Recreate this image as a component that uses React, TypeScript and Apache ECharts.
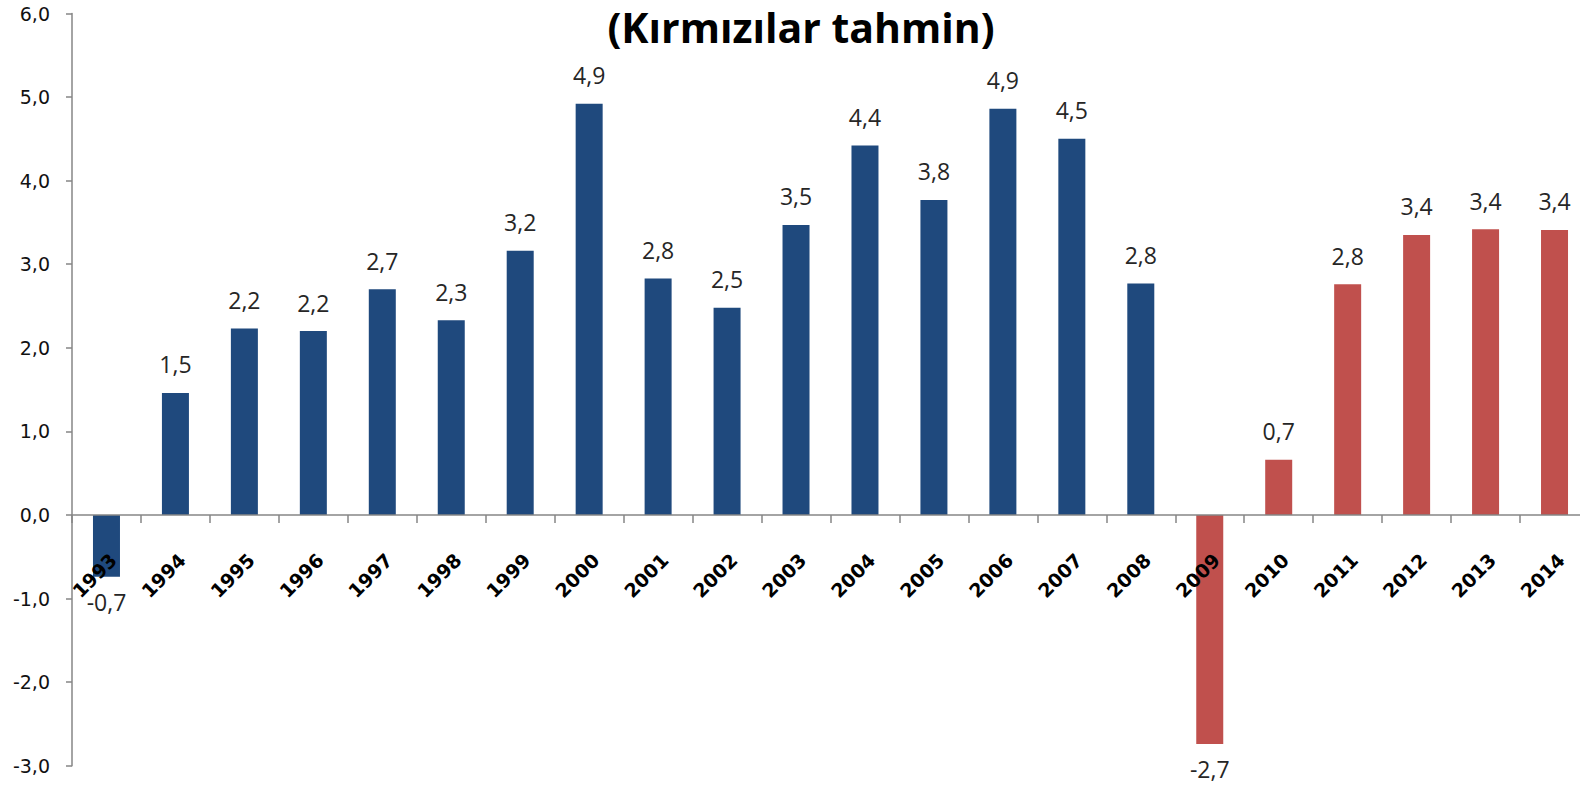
import React, { useEffect, useRef } from "react";
import * as echarts from "echarts";

const years = [
  "1993", "1994", "1995", "1996", "1997", "1998", "1999", "2000", "2001", "2002", "2003",
  "2004", "2005", "2006", "2007", "2008", "2009", "2010", "2011", "2012", "2013", "2014",
];
const growth = [
  -0.74, 1.46, 2.23, 2.2, 2.7, 2.33, 3.16, 4.92, 2.83, 2.48, 3.47,
  4.42, 3.77, 4.86, 4.5, 2.77, -2.74, 0.66, 2.76, 3.35, 3.42, 3.41,
];
const isForecast = [
  false, false, false, false, false, false, false, false, false, false, false,
  false, false, false, false, false, true, true, true, true, true, true,
];
const titleText = "(Kırmızılar tahmin)";
const yMin = -3;
const yMax = 6;
const yStep = 1;

const fmt = (v: number) => v.toFixed(1).replace(".", ",");

const GRID_TOP = 13.5;
const GRID_H = 752.2;

export default function App() {
  const ref = useRef<HTMLDivElement>(null);
  useEffect(() => {
    if (!ref.current) return;
    const chart = echarts.init(ref.current, undefined, { renderer: "svg" });
    const data = growth.map((v, i) => ({
      value: v,
      itemStyle: { color: isForecast[i] ? "#C0504D" : "#1F497D" },
      label: { position: v < 0 ? "bottom" : "top", distance: v < 0 ? 14 : 17 },
    }));
    const zeroOffset = -(GRID_H * (0 - yMin)) / (yMax - yMin);
    chart.setOption({
      animation: false,
      backgroundColor: "#ffffff",
      graphic: [
        {
          type: "text",
          x: 801,
          y: 27,
          style: {
            text: titleText,
            fontFamily: "Open Sans",
            fontWeight: "bold",
            fontSize: 41,
            fill: "#000000",
            textAlign: "center",
            textVerticalAlign: "middle",
          },
        },
      ],
      grid: {
        left: 72,
        top: GRID_TOP,
        width: 1517,
        height: GRID_H,
        containLabel: false,
        outerBoundsMode: "none",
      },
      xAxis: {
        type: "category",
        data: years,
        boundaryGap: true,
        position: "bottom",
        offset: zeroOffset,
        z: 10,
        axisLine: { onZero: false, lineStyle: { color: "#868686", width: 1.5 } },
        axisTick: { show: true, length: 8, lineStyle: { color: "#868686", width: 1.5 } },
        axisLabel: {
          interval: 0,
          rotate: 45,
          align: "right",
          verticalAlign: "top",
          margin: 35,
          fontFamily: "DejaVu Sans",
          fontWeight: "bold",
          fontSize: 19,
          color: "#000000",
        },
        splitLine: { show: false },
      },
      yAxis: {
        type: "value",
        min: yMin,
        max: yMax,
        interval: yStep,
        axisLine: { show: true, lineStyle: { color: "#868686", width: 1.5 } },
        axisTick: { show: true, length: 6, lineStyle: { color: "#868686", width: 1.5 } },
        axisLabel: {
          margin: 22,
          formatter: (v: number) => fmt(v),
          fontFamily: "DejaVu Sans",
          fontSize: 19,
          color: "#111111",
        },
        splitLine: { show: false },
      },
      series: [
        {
          type: "bar",
          data,
          barWidth: 27,
          z: 2,
          label: {
            show: true,
            formatter: (p: any) => fmt(p.value),
            fontFamily: "Open Sans",
            fontSize: 23,
            color: "#262626",
          },
        },
      ],
    });
    return () => chart.dispose();
  }, []);
  return (
    <div
      ref={ref}
      style={{ position: "fixed", left: 0, top: 0, width: 1580, height: 791 }}
    />
  );
}
